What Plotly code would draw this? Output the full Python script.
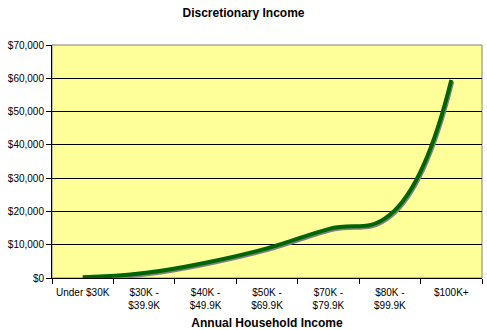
import plotly.graph_objects as go

# Income brackets and discretionary income per bracket
categories = ["Under $30K", "$30K -<br>$39.9K", "$40K -<br>$49.9K", "$50K -<br>$69.9K",
              "$70K -<br>$79.9K", "$80K -<br>$99.9K", "$100K+"]
discretionary = [200, 1500, 4600, 8900, 14700, 19000, 59500]
y_ticks = [0, 10000, 20000, 30000, 40000, 50000, 60000, 70000]

W, H = 487, 330
ML, MR, MT, MB = 52, 5, 45, 52
plot_w = W - ML - MR
plot_h = H - MT - MB

y_max = 70000
x_pos = list(range(len(categories)))
x_lo, x_hi = -0.5, len(categories) - 0.5

# drop shadow offset (in pixels) expressed in axis units
sx = 1 * (x_hi - x_lo) / plot_w
sy = 1.5 * y_max / plot_h
shadow_x = [x + sx for x in x_pos]
shadow_y = [v - sy for v in discretionary]

fig = go.Figure()

fig.add_trace(go.Scatter(
    x=shadow_x, y=shadow_y, mode="lines",
    line=dict(color="#808080", width=4, shape="spline", smoothing=1.3),
    hoverinfo="skip", showlegend=False,
))
fig.add_trace(go.Scatter(
    x=x_pos, y=discretionary, mode="lines",
    line=dict(color="#006400", width=4, shape="spline", smoothing=1.3),
    showlegend=False,
))

axis_font = dict(family="Liberation Sans, Arial, sans-serif", size=10, color="black")

fig.update_layout(
    width=W, height=H,
    margin=dict(l=ML, r=MR, t=MT, b=MB, pad=0, autoexpand=False),
    paper_bgcolor="white",
    plot_bgcolor="#FFFF99",
    title=dict(text="<b>Discretionary Income</b>", x=0.5, xanchor="center",
               y=1 - 13 / H, yanchor="middle",
               font=dict(family="Liberation Sans, Arial, sans-serif", size=12, color="black")),
    xaxis=dict(
        range=[x_lo, x_hi], tickvals=x_pos, ticktext=categories, tickangle=0,
        automargin=False, ticks="outside", ticklen=5, tickcolor="rgba(0,0,0,0)",
        minor=dict(tick0=-0.5, dtick=1, ticks="outside", ticklen=5,
                   tickcolor="black", tickwidth=1, showgrid=False),
        showline=True, linecolor="black", linewidth=1,
        showgrid=False, zeroline=False, tickfont=axis_font,
        title=dict(text="<b>Annual Household Income</b>", standoff=13,
                   font=dict(family="Liberation Sans, Arial, sans-serif", size=12, color="black")),
    ),
    yaxis=dict(
        range=[0, y_max], tickvals=y_ticks, tickformat="$,.0f",
        automargin=False,
        ticks="outside", ticklen=5, tickcolor="black", tickwidth=1,
        showline=True, linecolor="black", linewidth=1,
        showgrid=True, gridcolor="black", gridwidth=1, zeroline=False,
        tickfont=axis_font,
    ),
    shapes=[dict(type="rect", xref="paper", yref="paper", x0=0, x1=1, y0=0, y1=1,
                 line=dict(color="#808080", width=1), layer="below")],
)

fig.write_html("out.html")
